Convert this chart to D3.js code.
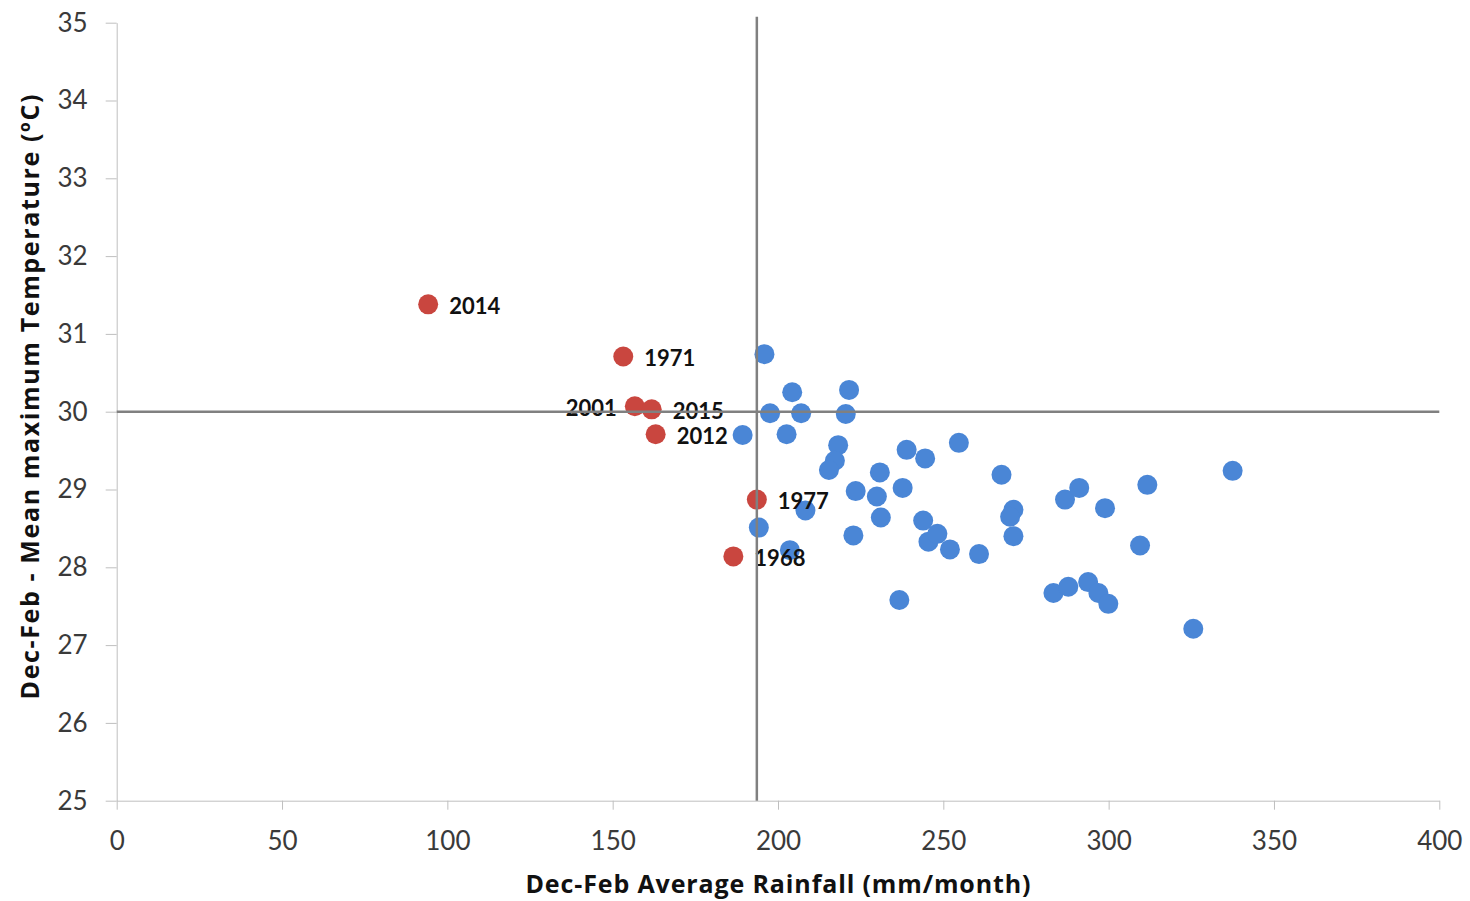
<!DOCTYPE html>
<html>
<head>
<meta charset="utf-8">
<script src="https://cdn.jsdelivr.net/npm/d3@7"></script>
<style>
  body { margin: 0; background: #fff; }
  text { font-family: "Lato", "Open Sans", sans-serif; }
  text.title { font-family: "Open Sans", "Lato", sans-serif; }
</style>
</head>
<body>
<div id="chart"></div>
<script>
// Dec-Feb rainfall (mm/month) and mean max temperature (ºC), ordinary years
const rainfall = [195.9, 204.3, 197.6, 207.0, 189.3, 202.6, 221.5, 220.5, 218.2, 217.2,
  215.4, 238.9, 244.5, 254.7, 230.8, 223.5, 229.9, 237.7, 231.1, 222.8,
  243.9, 245.5, 248.2, 252.0, 260.8, 267.6, 271.2, 270.2, 271.2, 236.7,
  283.3, 287.8, 286.8, 291.1, 298.9, 311.7, 337.5, 309.5, 293.8, 296.9,
  299.9, 325.6, 194.2, 208.3, 203.6];
const temperature = [30.74, 30.25, 29.98, 29.98, 29.70, 29.71, 30.28, 29.97, 29.57, 29.37,
  29.25, 29.51, 29.40, 29.60, 29.22, 28.98, 28.91, 29.02, 28.64, 28.41,
  28.60, 28.33, 28.43, 28.23, 28.17, 29.19, 28.74, 28.65, 28.40, 27.58,
  27.67, 27.75, 28.87, 29.02, 28.76, 29.06, 29.24, 28.28, 27.81, 27.67,
  27.53, 27.21, 28.51, 28.73, 28.22];

// highlighted (dry) years
const dryYears = ["2014", "1971", "2001", "2015", "2012", "1977", "1968"];
const dryRainfall = [94.2, 153.2, 156.7, 161.8, 163.0, 193.6, 186.5];
const dryTemperature = [31.38, 30.71, 30.07, 30.03, 29.71, 28.87, 28.14];

// reference lines
const refRainfall = 193.6;
const refTemperature = 30;

const xTicks = [0, 50, 100, 150, 200, 250, 300, 350, 400];
const yTicks = [25, 26, 27, 28, 29, 30, 31, 32, 33, 34, 35];

const xTitle = "Dec-Feb Average Rainfall (mm/month)";
const yTitle = "Dec-Feb - Mean maximum Temperature (ºC)";

(function () {

  const margin = { top: 22.7, right: 30.7, bottom: 100.3, left: 116.7 },
    width = 1470 - margin.left - margin.right,
    height = 901 - margin.top - margin.bottom;

  const svg = d3.select("#chart")
    .append("svg")
    .attr("width", 1470)
    .attr("height", 901)
    .append("g")
    .attr("transform", `translate(${margin.left}, ${margin.top})`);

  const x = d3.scaleLinear().domain([0, 400]).range([0, width]);
  const y = d3.scaleLinear().domain([25, 35]).range([height, 0]);

  const axisColor = "#bfbfbf";

  // Y axis
  const yAxis = svg.append("g")
    .call(d3.axisLeft(y).tickValues(yTicks).tickSize(11).tickSizeOuter(0).tickPadding(18));
  // X axis
  const xAxis = svg.append("g")
    .attr("transform", `translate(0, ${height})`)
    .call(d3.axisBottom(x).tickValues(xTicks).tickSize(9).tickSizeOuter(0).tickPadding(22));

  [xAxis, yAxis].forEach(a => {
    a.select(".domain").attr("stroke", axisColor);
    a.selectAll(".tick line").attr("stroke", axisColor);
    a.selectAll(".tick text")
      .attr("fill", "#3a3a3a")
      .style("font-size", "26px");
  });

  // blue points
  svg.selectAll("circle.normal")
    .data(rainfall)
    .join("circle")
    .attr("class", "normal")
    .attr("cx", d => x(d))
    .attr("cy", (d, i) => y(temperature[i]))
    .attr("r", 10)
    .attr("fill", "#4a86d6");

  // red points
  svg.selectAll("circle.dry")
    .data(dryYears)
    .join("circle")
    .attr("class", "dry")
    .attr("cx", (d, i) => x(dryRainfall[i]))
    .attr("cy", (d, i) => y(dryTemperature[i]))
    .attr("r", 10)
    .attr("fill", "#c9463f");

  // year labels
  const leftLabeled = new Set(["2001"]);
  svg.selectAll("text.year")
    .data(dryYears)
    .join("text")
    .attr("class", "year")
    .attr("x", (d, i) => x(dryRainfall[i]) + (leftLabeled.has(d) ? -18 : 21))
    .attr("y", (d, i) => y(dryTemperature[i]) + 2)
    .attr("dy", "0.35em")
    .attr("text-anchor", d => leftLabeled.has(d) ? "end" : "start")
    .style("font-size", "22px")
    .style("font-weight", "bold")
    .attr("fill", "#111")
    .text(d => d);

  // reference lines
  svg.append("line")
    .attr("x1", x(refRainfall)).attr("x2", x(refRainfall))
    .attr("y1", y(35) - 6).attr("y2", height)
    .attr("stroke", "#808080")
    .attr("stroke-width", 2.5);
  svg.append("line")
    .attr("x1", 0).attr("x2", width)
    .attr("y1", y(refTemperature)).attr("y2", y(refTemperature))
    .attr("stroke", "#808080")
    .attr("stroke-width", 2.5);

  // axis titles (stretched a little to match the original's wider face)
  svg.append("text")
    .attr("class", "title")
    .attr("x", 778 - margin.left)
    .attr("y", height + 92)
    .attr("text-anchor", "middle")
    .attr("textLength", 505)
    .attr("lengthAdjust", "spacing")
    .style("font-size", "25px")
    .style("font-weight", "bold")
    .attr("fill", "#111")
    .text(xTitle);

  svg.append("text")
    .attr("class", "title")
    .attr("transform", `translate(${39 - margin.left}, ${397 - margin.top}) rotate(-90)`)
    .attr("text-anchor", "middle")
    .attr("textLength", 605)
    .attr("lengthAdjust", "spacing")
    .style("font-size", "25px")
    .style("font-weight", "bold")
    .attr("fill", "#111")
    .text(yTitle);

})();
</script>
</body>
</html>
